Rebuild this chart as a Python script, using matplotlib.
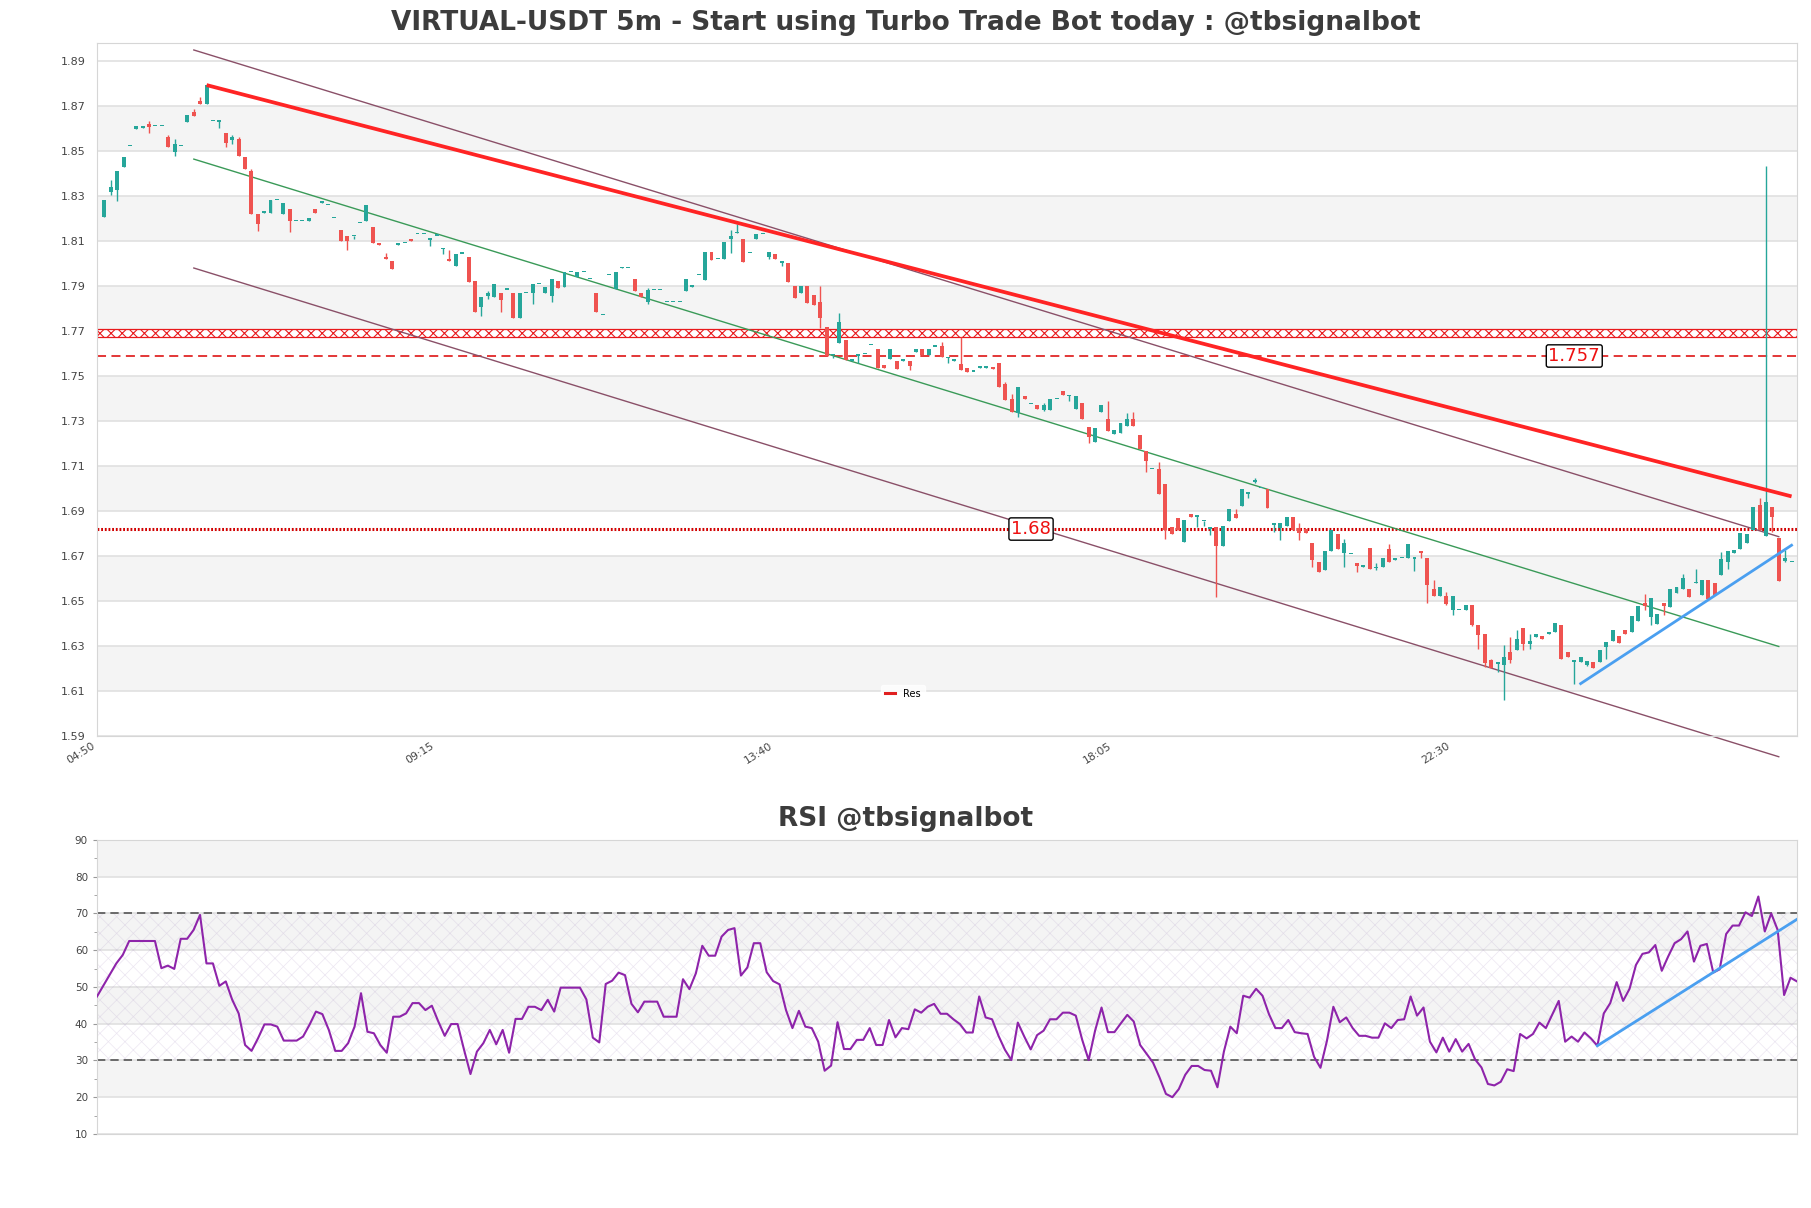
import numpy as np
import matplotlib
matplotlib.use("Agg")
import matplotlib.pyplot as plt
import matplotlib.transforms as mtransforms
from matplotlib.lines import Line2D
from matplotlib.ticker import MultipleLocator

plt.rcParams['hatch.linewidth'] = 0.8

# ---------------------------------------------------------
# Candle data (5m)
# ---------------------------------------------------------
opens = [
    1.8208, 1.8319, 1.8327, 1.8430, 1.8521, 1.8599, 1.8604, 1.8620, 1.8611, 1.8611,
    1.8564, 1.8497, 1.8521, 1.8630, 1.8675, 1.8722, 1.8710, 1.8633, 1.8630, 1.8579,
    1.8549, 1.8554, 1.8472, 1.8413, 1.8219, 1.8226, 1.8226, 1.8282, 1.8219, 1.8241,
    1.8187, 1.8187, 1.8187, 1.8241, 1.8271, 1.8260, 1.8201, 1.8150, 1.8124, 1.8121,
    1.8179, 1.8187, 1.8164, 1.8093, 1.8031, 1.8012, 1.8081, 1.8090, 1.8108, 1.8130,
    1.8130, 1.8106, 1.8123, 1.8065, 1.8021, 1.7987, 1.8043, 1.8028, 1.7923, 1.7808,
    1.7856, 1.7853, 1.7871, 1.7883, 1.7871, 1.7757, 1.7868, 1.7867, 1.7907, 1.7867,
    1.7857, 1.7922, 1.7897, 1.7961, 1.7938, 1.7961, 1.7929, 1.7867, 1.7771, 1.7949,
    1.7885, 1.7978, 1.7978, 1.7929, 1.7867, 1.7827, 1.7882, 1.7882, 1.7827, 1.7827,
    1.7827, 1.7879, 1.7897, 1.7949, 1.7926, 1.8049, 1.8018, 1.8018, 1.8107, 1.8134,
    1.8107, 1.8045, 1.8107, 1.8131, 1.8030, 1.8042, 1.8001, 1.8001, 1.7900, 1.7867,
    1.7900, 1.7860, 1.7827, 1.7719, 1.7593, 1.7648, 1.7660, 1.7568, 1.7589, 1.7596,
    1.7636, 1.7618, 1.7549, 1.7575, 1.7568, 1.7568, 1.7568, 1.7608, 1.7618, 1.7593,
    1.7630, 1.7635, 1.7578, 1.7568, 1.7555, 1.7534, 1.7519, 1.7537, 1.7537, 1.7541,
    1.7556, 1.7465, 1.7396, 1.7334, 1.7411, 1.7375, 1.7369, 1.7349, 1.7349, 1.7396,
    1.7435, 1.7411, 1.7355, 1.7378, 1.7275, 1.7205, 1.7338, 1.7309, 1.7242, 1.7245,
    1.7278, 1.7307, 1.7238, 1.7168, 1.7085, 1.7085, 1.7020, 1.6831, 1.6868, 1.6764,
    1.6886, 1.6875, 1.6854, 1.6821, 1.6831, 1.6746, 1.6857, 1.6887, 1.6923, 1.6976,
    1.7031, 1.7001, 1.6997, 1.6840, 1.6823, 1.6835, 1.6872, 1.6823, 1.6820, 1.6760,
    1.6672, 1.6636, 1.6724, 1.6798, 1.6715, 1.6709, 1.6668, 1.6653, 1.6735, 1.6646,
    1.6651, 1.6733, 1.6684, 1.6691, 1.6691, 1.6689, 1.6722, 1.6691, 1.6555, 1.6522,
    1.6522, 1.6459, 1.6459, 1.6459, 1.6481, 1.6392, 1.6355, 1.6236, 1.6222, 1.6214,
    1.6273, 1.6281, 1.6380, 1.6310, 1.6340, 1.6343, 1.6352, 1.6362, 1.6395, 1.6273,
    1.6229, 1.6229, 1.6217, 1.6229, 1.6229, 1.6296, 1.6321, 1.6343, 1.6373, 1.6362,
    1.6411, 1.6491, 1.6429, 1.6399, 1.6491, 1.6473, 1.6537, 1.6552, 1.6555, 1.6578,
    1.6528, 1.6595, 1.6580, 1.6617, 1.6673, 1.6713, 1.6730, 1.6759, 1.6815, 1.6926,
    1.6790, 1.6919, 1.6778, 1.6678, 1.6673]

closes = [
    1.8282, 1.8338, 1.8411, 1.8472, 1.8522, 1.8611, 1.8610, 1.8605, 1.8612, 1.8612,
    1.8519, 1.8531, 1.8522, 1.8660, 1.8657, 1.8710, 1.8793, 1.8634, 1.8633, 1.8537,
    1.8564, 1.8480, 1.8419, 1.8219, 1.8176, 1.8227, 1.8282, 1.8283, 1.8271, 1.8187,
    1.8188, 1.8188, 1.8201, 1.8226, 1.8272, 1.8261, 1.8202, 1.8098, 1.8098, 1.8124,
    1.8180, 1.8260, 1.8090, 1.8083, 1.8019, 1.7976, 1.8093, 1.8091, 1.8098, 1.8131,
    1.8131, 1.8108, 1.8124, 1.8067, 1.8009, 1.8043, 1.8044, 1.7920, 1.7786, 1.7853,
    1.7871, 1.7908, 1.7839, 1.7884, 1.7757, 1.7871, 1.7869, 1.7907, 1.7908, 1.7897,
    1.7929, 1.7889, 1.7961, 1.7962, 1.7961, 1.7962, 1.7930, 1.7786, 1.7772, 1.7950,
    1.7961, 1.7986, 1.7979, 1.7879, 1.7849, 1.7882, 1.7883, 1.7883, 1.7828, 1.7828,
    1.7828, 1.7929, 1.7898, 1.7950, 1.8049, 1.8015, 1.8019, 1.8097, 1.8122, 1.8135,
    1.8008, 1.8046, 1.8131, 1.8132, 1.8049, 1.8018, 1.8011, 1.7919, 1.7848, 1.7900,
    1.7826, 1.7815, 1.7756, 1.7589, 1.7594, 1.7738, 1.7571, 1.7569, 1.7596, 1.7597,
    1.7637, 1.7537, 1.7537, 1.7618, 1.7530, 1.7569, 1.7544, 1.7618, 1.7593, 1.7618,
    1.7631, 1.7586, 1.7586, 1.7569, 1.7526, 1.7519, 1.7520, 1.7538, 1.7538, 1.7529,
    1.7452, 1.7395, 1.7341, 1.7452, 1.7396, 1.7376, 1.7355, 1.7369, 1.7396, 1.7397,
    1.7417, 1.7415, 1.7411, 1.7307, 1.7227, 1.7270, 1.7371, 1.7257, 1.7260, 1.7289,
    1.7307, 1.7278, 1.7175, 1.7124, 1.7086, 1.6976, 1.6816, 1.6798, 1.6816, 1.6860,
    1.6872, 1.6878, 1.6856, 1.6823, 1.6746, 1.6835, 1.6908, 1.6868, 1.6997, 1.6986,
    1.7038, 1.7002, 1.6915, 1.6843, 1.6846, 1.6875, 1.6816, 1.6804, 1.6804, 1.6683,
    1.6627, 1.6724, 1.6816, 1.6732, 1.6760, 1.6710, 1.6656, 1.6654, 1.6643, 1.6650,
    1.6691, 1.6673, 1.6688, 1.6692, 1.6755, 1.6691, 1.6713, 1.6570, 1.6522, 1.6562,
    1.6488, 1.6522, 1.6460, 1.6481, 1.6395, 1.6350, 1.6226, 1.6204, 1.6226, 1.6251,
    1.6236, 1.6333, 1.6310, 1.6322, 1.6355, 1.6333, 1.6362, 1.6402, 1.6244, 1.6251,
    1.6236, 1.6251, 1.6232, 1.6202, 1.6284, 1.6318, 1.6373, 1.6314, 1.6352, 1.6433,
    1.6476, 1.6478, 1.6515, 1.6441, 1.6478, 1.6552, 1.6562, 1.6604, 1.6518, 1.6580,
    1.6595, 1.6510, 1.6525, 1.6685, 1.6722, 1.6725, 1.6804, 1.6796, 1.6919, 1.6815,
    1.6941, 1.6875, 1.6590, 1.6690, 1.6674]

highs = [
    1.8282, 1.8371, 1.8411, 1.8472, 1.8522, 1.8611, 1.8610, 1.8633, 1.8612, 1.8612,
    1.8570, 1.8552, 1.8522, 1.8660, 1.8685, 1.8739, 1.8793, 1.8634, 1.8633, 1.8579,
    1.8571, 1.8564, 1.8472, 1.8422, 1.8219, 1.8227, 1.8282, 1.8283, 1.8271, 1.8241,
    1.8188, 1.8188, 1.8201, 1.8241, 1.8272, 1.8261, 1.8202, 1.8150, 1.8124, 1.8124,
    1.8180, 1.8260, 1.8164, 1.8093, 1.8046, 1.8012, 1.8093, 1.8091, 1.8108, 1.8131,
    1.8131, 1.8108, 1.8124, 1.8067, 1.8061, 1.8043, 1.8044, 1.8028, 1.7923, 1.7853,
    1.7878, 1.7908, 1.7871, 1.7884, 1.7871, 1.7871, 1.7869, 1.7907, 1.7908, 1.7897,
    1.7929, 1.7922, 1.7961, 1.7962, 1.7961, 1.7962, 1.7930, 1.7867, 1.7772, 1.7950,
    1.7961, 1.7986, 1.7979, 1.7929, 1.7867, 1.7889, 1.7883, 1.7883, 1.7828, 1.7828,
    1.7828, 1.7929, 1.7898, 1.7950, 1.8049, 1.8049, 1.8019, 1.8097, 1.8149, 1.8175,
    1.8107, 1.8046, 1.8131, 1.8132, 1.8049, 1.8042, 1.8011, 1.8001, 1.7900, 1.7900,
    1.7900, 1.7860, 1.7900, 1.7719, 1.7594, 1.7778, 1.7660, 1.7569, 1.7596, 1.7597,
    1.7637, 1.7618, 1.7549, 1.7618, 1.7568, 1.7569, 1.7568, 1.7618, 1.7618, 1.7618,
    1.7631, 1.7649, 1.7586, 1.7569, 1.7675, 1.7534, 1.7520, 1.7538, 1.7538, 1.7541,
    1.7560, 1.7475, 1.7420, 1.7452, 1.7411, 1.7376, 1.7369, 1.7378, 1.7396, 1.7397,
    1.7435, 1.7415, 1.7411, 1.7378, 1.7275, 1.7270, 1.7371, 1.7390, 1.7260, 1.7289,
    1.7334, 1.7338, 1.7238, 1.7168, 1.7086, 1.7119, 1.7020, 1.6831, 1.6868, 1.6860,
    1.6886, 1.6878, 1.6856, 1.6823, 1.6831, 1.6835, 1.6908, 1.6908, 1.6997, 1.6986,
    1.7045, 1.7002, 1.6997, 1.6843, 1.6846, 1.6875, 1.6872, 1.6846, 1.6820, 1.6760,
    1.6672, 1.6724, 1.6816, 1.6798, 1.6775, 1.6710, 1.6668, 1.6654, 1.6735, 1.6670,
    1.6691, 1.6755, 1.6688, 1.6692, 1.6755, 1.6691, 1.6722, 1.6691, 1.6592, 1.6562,
    1.6540, 1.6522, 1.6460, 1.6481, 1.6481, 1.6392, 1.6355, 1.6244, 1.6226, 1.6303,
    1.6340, 1.6373, 1.6380, 1.6355, 1.6355, 1.6343, 1.6362, 1.6402, 1.6395, 1.6273,
    1.6236, 1.6251, 1.6232, 1.6229, 1.6284, 1.6318, 1.6373, 1.6343, 1.6373, 1.6433,
    1.6476, 1.6533, 1.6515, 1.6441, 1.6491, 1.6552, 1.6562, 1.6622, 1.6555, 1.6644,
    1.6595, 1.6595, 1.6580, 1.6718, 1.6722, 1.6725, 1.6804, 1.6796, 1.6919, 1.6956,
    1.8433, 1.6919, 1.6778, 1.6725, 1.6674]

lows = [
    1.8208, 1.8304, 1.8279, 1.8430, 1.8521, 1.8599, 1.8604, 1.8579, 1.8611, 1.8611,
    1.8519, 1.8479, 1.8521, 1.8630, 1.8657, 1.8710, 1.8710, 1.8633, 1.8601, 1.8520,
    1.8531, 1.8480, 1.8419, 1.8219, 1.8145, 1.8226, 1.8226, 1.8282, 1.8219, 1.8138,
    1.8187, 1.8187, 1.8187, 1.8226, 1.8271, 1.8260, 1.8201, 1.8098, 1.8058, 1.8109,
    1.8179, 1.8187, 1.8090, 1.8083, 1.8019, 1.7976, 1.8081, 1.8090, 1.8098, 1.8130,
    1.8130, 1.8080, 1.8123, 1.8042, 1.8009, 1.7987, 1.8043, 1.7920, 1.7786, 1.7768,
    1.7842, 1.7853, 1.7786, 1.7883, 1.7757, 1.7757, 1.7868, 1.7820, 1.7907, 1.7867,
    1.7827, 1.7889, 1.7897, 1.7961, 1.7938, 1.7961, 1.7929, 1.7786, 1.7771, 1.7949,
    1.7885, 1.7978, 1.7978, 1.7879, 1.7849, 1.7820, 1.7882, 1.7882, 1.7827, 1.7827,
    1.7827, 1.7879, 1.7897, 1.7949, 1.7926, 1.8015, 1.8018, 1.8018, 1.8048, 1.8134,
    1.8008, 1.8045, 1.8107, 1.8131, 1.8020, 1.8018, 1.7989, 1.7919, 1.7848, 1.7867,
    1.7826, 1.7815, 1.7715, 1.7589, 1.7580, 1.7648, 1.7571, 1.7568, 1.7556, 1.7596,
    1.7636, 1.7537, 1.7537, 1.7575, 1.7530, 1.7568, 1.7526, 1.7608, 1.7593, 1.7593,
    1.7630, 1.7586, 1.7556, 1.7568, 1.7526, 1.7519, 1.7519, 1.7537, 1.7537, 1.7529,
    1.7452, 1.7395, 1.7341, 1.7316, 1.7396, 1.7375, 1.7355, 1.7346, 1.7349, 1.7396,
    1.7417, 1.7390, 1.7355, 1.7307, 1.7203, 1.7205, 1.7338, 1.7257, 1.7242, 1.7245,
    1.7278, 1.7278, 1.7175, 1.7075, 1.7085, 1.6976, 1.6775, 1.6798, 1.6816, 1.6764,
    1.6872, 1.6831, 1.6834, 1.6794, 1.6517, 1.6746, 1.6857, 1.6868, 1.6923, 1.6957,
    1.7025, 1.7001, 1.6915, 1.6809, 1.6772, 1.6835, 1.6816, 1.6772, 1.6804, 1.6653,
    1.6627, 1.6636, 1.6724, 1.6732, 1.6653, 1.6709, 1.6628, 1.6653, 1.6643, 1.6640,
    1.6651, 1.6673, 1.6684, 1.6691, 1.6691, 1.6633, 1.6691, 1.6493, 1.6522, 1.6522,
    1.6481, 1.6440, 1.6459, 1.6459, 1.6389, 1.6288, 1.6207, 1.6204, 1.6185, 1.6059,
    1.6226, 1.6281, 1.6281, 1.6288, 1.6340, 1.6333, 1.6352, 1.6362, 1.6244, 1.6251,
    1.6133, 1.6229, 1.6210, 1.6202, 1.6229, 1.6244, 1.6321, 1.6314, 1.6352, 1.6362,
    1.6411, 1.6459, 1.6395, 1.6399, 1.6439, 1.6473, 1.6537, 1.6552, 1.6518, 1.6578,
    1.6528, 1.6510, 1.6525, 1.6617, 1.6641, 1.6713, 1.6730, 1.6759, 1.6815, 1.6815,
    1.6790, 1.6808, 1.6590, 1.6673, 1.6673]

time_ticks = [0, 53, 106, 159, 212]
time_labels = ["04:50", "09:15", "13:40", "18:05", "22:30"]

# trend / channel lines (candle index, price)
res_x, res_y = [16, 264], [1.8793, 1.6965]
chan_x = [14, 262]
chan_top = [1.8949, 1.6786]
chan_mid = [1.8464, 1.6298]
chan_low = [1.7980, 1.5808]
sup_x, sup_y = [231, 264], [1.6133, 1.6748]

# horizontal levels
zone_lo, zone_hi = 1.7673, 1.7709
level_dash = 1.7589
level_dot = 1.6820
label_dash, label_dash_x = "1.757", 230
label_dot, label_dot_x = "1.68", 145

# RSI (vertices)
rsi_idx = [0, 3, 4, 5, 9, 10, 11, 12, 13, 14, 15, 16, 17, 18, 19, 20, 21, 22, 23, 24,
           25, 26, 27, 28, 29, 31, 32, 33, 34, 35, 36, 37, 38, 39, 40, 41, 42, 43, 44, 45,
           46, 47, 48, 49, 50, 51, 52, 53, 54, 55, 56, 57, 58, 59, 60, 61, 62, 63, 64, 65,
           66, 67, 68, 69, 70, 71, 72, 75, 76, 77, 78, 79, 80, 81, 82, 83, 84, 85, 87, 88,
           90, 91, 92, 93, 94, 95, 96, 97, 98, 99, 100, 101, 102, 103, 104, 105, 106, 107, 108, 109,
           110, 111, 112, 113, 114, 115, 116, 117, 118, 119, 120, 121, 122, 123, 124, 125, 126, 127, 128, 129,
           130, 131, 132, 133, 134, 135, 136, 137, 138, 139, 140, 141, 142, 143, 144, 145, 146, 147, 148, 149,
           150, 151, 152, 153, 154, 155, 156, 157, 158, 159, 160, 161, 162, 163, 164, 165, 166, 167, 168, 169,
           170, 171, 172, 173, 174, 175, 176, 177, 178, 179, 180, 181, 182, 183, 184, 185, 186, 187, 188, 189,
           190, 191, 192, 193, 194, 195, 196, 197, 198, 199, 200, 201, 202, 203, 204, 205, 206, 207, 208, 209,
           210, 211, 212, 213, 214, 215, 216, 217, 218, 219, 220, 221, 222, 223, 224, 225, 227, 228, 229, 230,
           231, 232, 233, 234, 235, 236, 237, 238, 239, 240, 241, 242, 243, 244, 245, 246, 247, 248, 249, 250,
           251, 252, 253, 254, 255, 256, 257, 258, 259, 260, 261, 262, 263, 264]
rsi_val = [47.4, 56.4, 58.7, 62.5, 62.5, 55.1, 55.8, 54.9, 63.1, 63.1, 65.5, 69.6, 56.4, 56.4, 50.3, 51.5, 46.5, 42.8, 34.2, 32.6,
           36.0, 39.8, 39.8, 39.2, 35.4, 35.4, 36.5, 39.7, 43.3, 42.6, 38.3, 32.6, 32.6, 34.7, 39.2, 48.3, 37.8, 37.4, 34.2, 32.1,
           41.9, 41.9, 42.8, 45.6, 45.6, 43.7, 44.9, 40.6, 36.7, 39.9, 39.9, 32.9, 26.3, 32.4, 34.7, 38.3, 34.4, 38.3, 32.1, 41.3,
           41.3, 44.6, 44.6, 43.7, 46.5, 43.3, 49.8, 49.8, 46.6, 36.2, 34.9, 50.8, 51.7, 53.9, 53.2, 45.4, 43.1, 46.0, 46.0, 41.9,
           41.9, 52.1, 49.4, 53.7, 61.2, 58.5, 58.5, 63.7, 65.5, 66.0, 53.1, 55.3, 61.9, 61.9, 54.0, 51.6, 50.7, 43.7, 38.8, 43.5,
           39.2, 38.8, 35.1, 27.2, 28.6, 40.4, 33.1, 33.1, 35.6, 35.6, 38.8, 34.2, 34.2, 41.0, 36.3, 38.8, 38.5, 43.9, 43.0, 44.6,
           45.4, 42.7, 42.7, 41.2, 39.9, 37.6, 37.6, 47.4, 41.7, 41.2, 36.7, 32.9, 30.1, 40.3, 36.5, 33.0, 36.9, 38.1, 41.2, 41.2,
           43.0, 43.0, 42.2, 35.6, 30.1, 38.1, 44.4, 37.7, 37.7, 40.1, 42.4, 40.6, 34.2, 31.8, 29.4, 25.4, 20.9, 20.0, 22.2, 26.1,
           28.5, 28.5, 27.4, 27.2, 22.7, 32.4, 39.2, 37.4, 47.6, 47.1, 49.5, 47.6, 42.6, 38.8, 38.8, 41.0, 37.7, 37.4, 37.2, 31.0,
           28.0, 35.3, 44.6, 40.4, 41.7, 38.8, 36.7, 36.7, 36.2, 36.2, 40.1, 38.8, 41.0, 41.2, 47.4, 42.2, 44.4, 35.1, 32.2, 36.2,
           32.4, 35.8, 32.4, 34.5, 30.3, 28.1, 23.6, 23.2, 24.2, 27.6, 27.1, 37.2, 36.0, 37.2, 40.3, 38.8, 46.2, 35.1, 36.5, 35.1,
           37.6, 36.0, 34.0, 42.8, 45.6, 51.3, 46.2, 49.5, 56.0, 59.0, 59.4, 61.4, 54.4, 58.3, 61.9, 63.0, 65.1, 56.9, 61.2, 61.7,
           53.9, 54.8, 64.4, 66.7, 66.7, 70.3, 69.3, 74.6, 65.1, 70.0, 65.5, 47.8, 52.5, 51.5]
rsi_trend_x, rsi_trend_y = [233, 264], [34.0, 68.4]

# ---------------------------------------------------------
# Figure
# ---------------------------------------------------------
UP, DOWN = '#26a69a', '#ef5350'
BAND = '#f4f4f4'
GRID = '#dedede'
TXT = '#444444'

fig = plt.figure(figsize=(18.11, 12.08), dpi=100)
ax = fig.add_axes([0.05356, 0.3907, 0.9387, 0.5737])
ax2 = fig.add_axes([0.05356, 0.0613, 0.9387, 0.2434])

o = np.array(opens); c = np.array(closes)
h = np.array(highs); l = np.array(lows)
idx = np.arange(len(o))

# background bands
y_ticks = np.round(np.arange(1.59, 1.8901, 0.02), 2)
for k in range(len(y_ticks) - 1):
    if k % 2 == 1:
        ax.axhspan(y_ticks[k], y_ticks[k + 1], color=BAND, lw=0, zorder=0)
ax.set_yticks(y_ticks)
ax.set_yticklabels([f"{v:.2f}" for v in y_ticks])
ax.grid(axis='y', color=GRID, lw=1.1, zorder=0.5)
ax.set_axisbelow(True)

# levels
ax.axhspan(zone_lo, zone_hi, facecolor='white', edgecolor='#e8191c', hatch='xxx', lw=0.9, zorder=1.5)
ax.axhline(level_dash, color='#e02828', lw=1.3, ls=(0, (5, 3)), zorder=1.6)
ax.axhline(level_dot, color='#d10000', lw=2.2, ls=(0, (0.6, 0.6)), zorder=1.6)

# channels
ax.plot(chan_x, chan_top, color='#8a5068', lw=1.0, zorder=2)
ax.plot(chan_x, chan_mid, color='#3a9a58', lw=1.0, zorder=2)
ax.plot(chan_x, chan_low, color='#8a5068', lw=1.0, zorder=2, clip_on=False)

# candles
colors = np.where(c >= o, UP, DOWN)
ax.vlines(idx, l, h, colors=colors, lw=1.0, zorder=3)
body_lo = np.minimum(o, c)
body_h = np.maximum(np.abs(c - o), 0.0006)
ax.bar(idx, body_h, bottom=body_lo, width=0.62, color=colors, lw=0, zorder=3.1)

# trend lines
ax.plot(res_x, res_y, color='#ff2424', lw=2.7, zorder=4, solid_capstyle='butt')
ax.plot(sup_x, sup_y, color='#4a9ff0', lw=2.0, zorder=4)

box = dict(boxstyle='round,pad=0.12', fc='white', ec='black', lw=1.0)
ax.text(label_dash_x, level_dash, label_dash, color='#ee1111', fontsize=13,
        ha='center', va='center', bbox=box, zorder=5)
ax.text(label_dot_x, level_dot, label_dot, color='#ee1111', fontsize=13,
        ha='center', va='center', bbox=box, zorder=5)

leg = ax.legend(handles=[Line2D([0], [0], color='#e02020', lw=2.2)], labels=['Res'],
                loc='center', bbox_to_anchor=(0.474, 0.061), fontsize=7,
                handlelength=1.1, frameon=True, borderpad=0.4)
leg.get_frame().set_edgecolor('white')
leg.get_frame().set_facecolor('white')

ax.set_xlim(-1.15, 264.85)
ax.set_ylim(1.59, 1.898)
ax.set_xticks(time_ticks)
ax.set_xticklabels(time_labels, rotation=32, ha='right')
ax.tick_params(axis='x', length=0, labelsize=7.8, labelcolor=TXT, pad=3)
ax.tick_params(axis='y', length=0, labelsize=8, labelcolor=TXT, pad=8)
shift = mtransforms.ScaledTranslation(-0.07, 0, fig.dpi_scale_trans)
for lab in ax.get_xticklabels():
    lab.set_transform(lab.get_transform() + shift)
for s in ax.spines.values():
    s.set_color('#d6d6d6')

fig.text(0.5, 1 - 23 / 1208, "VIRTUAL-USDT 5m - Start using Turbo Trade Bot today : @tbsignalbot",
         ha='center', va='center', fontsize=19, fontweight='bold', color='#3c3c3c')

# ---------------------------------------------------------
# RSI panel
# ---------------------------------------------------------
for lo in (20, 40, 60, 80):
    ax2.axhspan(lo, lo + 10, color=BAND, lw=0, zorder=0)
hatch_zone = ax2.axhspan(30, 70, facecolor='none', edgecolor=(0.66, 0.56, 0.76, 0.22),
                         hatch='xx', lw=0, zorder=0.6)
if hasattr(hatch_zone, 'set_hatch_linewidth'):
    hatch_zone.set_hatch_linewidth(0.5)
ax2.set_yticks(np.arange(10, 91, 10))
ax2.yaxis.set_minor_locator(MultipleLocator(5))
ax2.grid(axis='y', which='major', color=GRID, lw=1.1, zorder=0.5)
ax2.set_axisbelow(True)
ax2.axhline(70, color='#555555', lw=1.2, ls=(0, (5, 3)), zorder=1)
ax2.axhline(30, color='#555555', lw=1.2, ls=(0, (5, 3)), zorder=1)

ax2.plot(rsi_idx, rsi_val, color='#8e24aa', lw=1.5, zorder=3)
ax2.plot(rsi_trend_x, rsi_trend_y, color='#4a9ff0', lw=2.0, zorder=4)

ax2.set_xlim(0, 264)
ax2.set_ylim(10, 90)
ax2.set_xticks([])
ax2.tick_params(axis='y', which='major', length=3, color='#999999', labelsize=7.5, labelcolor=TXT)
ax2.tick_params(axis='y', which='minor', length=2, color='#999999')
for s in ax2.spines.values():
    s.set_color('#d6d6d6')

fig.text(0.5, 1 - 819 / 1208, "RSI @tbsignalbot", ha='center', va='center',
         fontsize=19, fontweight='bold', color='#3c3c3c')

fig.savefig('out.png', dpi=100, facecolor='white')
